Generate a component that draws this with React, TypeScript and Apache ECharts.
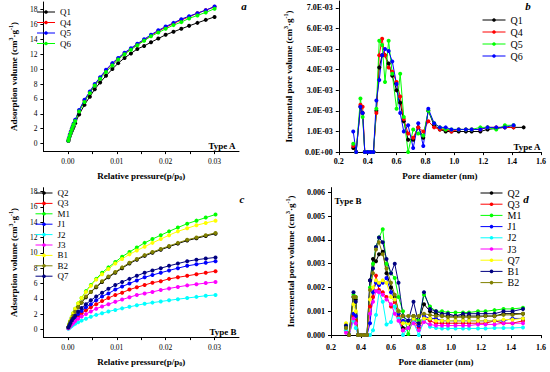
import React, { useEffect, useRef } from 'react';
import * as echarts from 'echarts';

const FONT = '"Liberation Serif", "Times New Roman", serif';

// ---------- Panel a: adsorption isotherms, Type A ----------
const aPressure = [0.0001, 0.0002, 0.0004, 0.0006, 0.0008, 0.001, 0.0012, 0.0015, 0.0023, 0.0034, 0.0045, 0.0055, 0.0066, 0.0078, 0.0091, 0.0103, 0.0116, 0.0129, 0.0142, 0.0156, 0.017, 0.0185, 0.02, 0.0216, 0.0232, 0.0248, 0.0265, 0.0282, 0.03];
const aQ1 = [0.35, 0.6, 1.0, 1.35, 1.7, 2.0, 2.3, 2.75, 3.9, 5.2, 6.3, 7.3, 8.2, 9.1, 10.0, 10.8, 11.5, 12.1, 12.7, 13.1, 13.6, 14.1, 14.6, 15.0, 15.4, 15.8, 16.2, 16.6, 17.0];
const aQ4 = [0.4, 0.7, 1.15, 1.55, 1.95, 2.3, 2.65, 3.1, 4.4, 5.8, 6.9, 7.9, 8.8, 9.8, 10.7, 11.4, 12.1, 12.7, 13.3, 13.9, 14.5, 15.1, 15.6, 16.1, 16.6, 17.0, 17.5, 17.9, 18.35];
const aQ5 = [0.4, 0.75, 1.2, 1.6, 2.0, 2.35, 2.7, 3.2, 4.5, 5.9, 7.0, 8.0, 8.9, 9.9, 10.8, 11.5, 12.2, 12.8, 13.4, 14.0, 14.6, 15.2, 15.7, 16.2, 16.7, 17.1, 17.5, 17.9, 18.4];
const aQ6 = [0.4, 0.7, 1.1, 1.5, 1.9, 2.25, 2.6, 3.05, 4.3, 5.6, 6.8, 7.8, 8.7, 9.6, 10.5, 11.3, 12.0, 12.6, 13.2, 13.8, 14.4, 14.9, 15.4, 15.9, 16.3, 16.8, 17.2, 17.6, 18.1];

// ---------- Panel c: adsorption isotherms, Type B ----------
const cPressure = [0.0001, 0.0003, 0.0005, 0.0008, 0.0011, 0.0015, 0.0021, 0.0028, 0.0037, 0.0047, 0.0058, 0.007, 0.0083, 0.0097, 0.0111, 0.0126, 0.0141, 0.0157, 0.0173, 0.019, 0.0207, 0.0225, 0.0244, 0.0263, 0.0282, 0.0302];
const cQ2 = [0.3, 0.6, 1.0, 1.4, 1.8, 2.3, 2.9, 3.5, 4.2, 4.9, 5.5, 6.2, 6.8, 7.4, 8.0, 8.6, 9.1, 9.6, 10.0, 10.4, 10.8, 11.2, 11.6, 11.9, 12.2, 12.5];
const cQ3 = [0.2, 0.35, 0.55, 0.8, 1.05, 1.35, 1.7, 2.1, 2.5, 2.9, 3.3, 3.7, 4.1, 4.5, 4.8, 5.2, 5.5, 5.8, 6.1, 6.3, 6.6, 6.8, 7.0, 7.2, 7.4, 7.6];
const cM1 = [0.3, 0.7, 1.1, 1.6, 2.1, 2.7, 3.4, 4.1, 5.0, 5.8, 6.6, 7.4, 8.1, 8.8, 9.5, 10.1, 10.7, 11.3, 11.8, 12.3, 12.8, 13.3, 13.8, 14.2, 14.6, 15.0];
const cJ1 = [0.2, 0.4, 0.65, 0.95, 1.25, 1.6, 2.0, 2.4, 2.9, 3.3, 3.8, 4.3, 4.7, 5.2, 5.6, 6.0, 6.4, 6.8, 7.1, 7.4, 7.7, 8.0, 8.3, 8.5, 8.7, 8.9];
const cJ2 = [0.1, 0.2, 0.3, 0.45, 0.6, 0.75, 0.95, 1.15, 1.4, 1.65, 1.9, 2.1, 2.35, 2.55, 2.75, 2.95, 3.15, 3.35, 3.5, 3.65, 3.8, 3.95, 4.1, 4.25, 4.4, 4.5];
const cJ3 = [0.15, 0.3, 0.45, 0.65, 0.85, 1.1, 1.4, 1.7, 2.0, 2.35, 2.7, 3.0, 3.3, 3.6, 3.9, 4.2, 4.5, 4.7, 4.9, 5.15, 5.35, 5.55, 5.75, 5.9, 6.05, 6.2];
const cB1 = [0.3, 0.7, 1.1, 1.6, 2.1, 2.7, 3.4, 4.1, 4.9, 5.7, 6.5, 7.2, 7.9, 8.6, 9.2, 9.8, 10.3, 10.8, 11.3, 11.8, 12.3, 12.8, 13.2, 13.6, 13.9, 14.2];
const cB2 = [0.3, 0.6, 1.0, 1.4, 1.8, 2.3, 2.9, 3.5, 4.3, 4.9, 5.6, 6.3, 6.9, 7.5, 8.1, 8.7, 9.2, 9.7, 10.1, 10.5, 10.9, 11.3, 11.7, 12.0, 12.3, 12.6];
const cQ7 = [0.25, 0.5, 0.8, 1.15, 1.45, 1.8, 2.3, 2.8, 3.3, 3.8, 4.3, 4.8, 5.3, 5.8, 6.2, 6.6, 7.0, 7.4, 7.7, 8.0, 8.3, 8.6, 8.9, 9.1, 9.25, 9.4];

// ---------- Panel b / d: pore size distributions ----------
const poreDiameter = [0.3, 0.32, 0.35, 0.365, 0.38, 0.4, 0.42, 0.44, 0.46, 0.48, 0.5, 0.52, 0.545, 0.57, 0.6, 0.625, 0.65, 0.68, 0.715, 0.75, 0.785, 0.82, 0.86, 0.9, 0.94, 0.98, 1.03, 1.08, 1.12, 1.18, 1.23, 1.29, 1.35, 1.41, 1.48];

const bQ1 = [0.2e-3, 0, 2.2e-3, 1.9e-3, 0, 0, 0, 0, 2.0e-3, 4.1e-3, 4.7e-3, 4.7e-3, 4.3e-3, 3.7e-3, 3.0e-3, 2.4e-3, 1.5e-3, 0.6e-3, 0.6e-3, 1.2e-3, 0.7e-3, 2.0e-3, 1.3e-3, 1.1e-3, 1.0e-3, 1.0e-3, 1.0e-3, 1.0e-3, 1.0e-3, 1.0e-3, 1.1e-3, 1.15e-3, 1.2e-3, 1.2e-3, 1.2e-3];
const bQ4 = [0.3e-3, 0, 2.3e-3, 2.2e-3, 0, 0, 0, 0, 1.9e-3, 4.7e-3, 5.5e-3, 4.7e-3, 4.1e-3, 3.9e-3, 3.4e-3, 2.7e-3, 1.6e-3, 0.9e-3, 0.7e-3, 1.2e-3, 1.0e-3, 1.5e-3, 1.2e-3, 1.1e-3, 1.1e-3, 1.0e-3, 1.1e-3, 1.1e-3, 1.1e-3, 1.1e-3, 1.2e-3, 1.2e-3, 1.2e-3, 1.2e-3];
const bQ5 = [0.4e-3, 0, 2.6e-3, 1.7e-3, 0, 0, 0, 0, 2.1e-3, 5.4e-3, 5.2e-3, 3.4e-3, 5.4e-3, 3.8e-3, 2.1e-3, 3.8e-3, 1.7e-3, 0, 1.1e-3, 0.9e-3, 0.8e-3, 2.0e-3, 1.4e-3, 1.2e-3, 1.1e-3, 1.1e-3, 1.1e-3, 1.1e-3, 1.1e-3, 1.2e-3, 1.2e-3, 1.1e-3, 1.3e-3, 1.3e-3];
const bQ6 = [1.0e-3, 0, 2.2e-3, 1.9e-3, 0, 0, 0, 0, 2.5e-3, 3.5e-3, 4.7e-3, 5.0e-3, 4.9e-3, 4.4e-3, 3.3e-3, 1.9e-3, 1.0e-3, 1.3e-3, 0.2e-3, 1.4e-3, 0.3e-3, 2.1e-3, 1.4e-3, 1.2e-3, 1.2e-3, 1.1e-3, 1.1e-3, 1.1e-3, 1.1e-3, 1.1e-3, 1.2e-3, 1.2e-3, 1.2e-3, 1.3e-3];

const dQ2 = [0.0003, 0, 0.0016, 0.0015, 0, 0, 0, 0, 0.0023, 0.0032, 0.0031, 0.0034, 0.0035, 0.0026, 0.002, 0.0016, 0.001, 0.0003, 0.0003, 0.0008, 0.0006, 0.0013, 0.001, 0.0009, 0.0008, 0.0008, 0.0008, 0.0008, 0.0008, 0.0008, 0.0008, 0.0008, 0.0009, 0.0009, 0.0009];
const dQ3 = [0.0002, 0, 0.0008, 0.0006, 0, 0, 0, 0, 0.0012, 0.0016, 0.0025, 0.0019, 0.0018, 0.0016, 0.0012, 0.0014, 0.0008, 0.0002, 0.0003, 0.0006, 0.0003, 0.0007, 0.0006, 0.0005, 0.0005, 0.0005, 0.0005, 0.0005, 0.0005, 0.0005, 0.0005, 0.0006, 0.0005, 0.0005, 0.0006];
const dM1 = [0.0004, 0, 0.0017, 0.0016, 0, 0, 0, 0, 0.002, 0.003, 0.0037, 0.0041, 0.00445, 0.003, 0.0026, 0.0024, 0.0016, 0.001, 0.00005, 0.0007, 0.0006, 0.0017, 0.0012, 0.001, 0.001, 0.00095, 0.00095, 0.00095, 0.00095, 0.001, 0.001, 0.00105, 0.0011, 0.0011, 0.00115];
const dJ1 = [0.0003, 0, 0.0009, 0.0008, 0, 0, 0, 0, 0.0005, 0.0018, 0.0022, 0.0021, 0.0022, 0.0024, 0.0018, 0.0015, 0.0009, 0.0006, 0.0006, 0.0007, 0.0004, 0.0008, 0.0007, 0.0007, 0.0006, 0.0006, 0.0006, 0.0006, 0.0006, 0.0006, 0.0006, 0.0006, 0.0006, 0.0007, 0.0007];
const dJ2 = [0.0002, 0, 0.0006, 0.0003, 0, 0, 0, 0, 0, 0.0002, 0.00085, 0.0018, 0.0014, 0.00045, 0.00055, 0.0012, 0.0007, 0, 0.0003, 0.00055, 0, 0.0006, 0.00035, 0.0003, 0.00028, 0.00028, 0.00028, 0.00028, 0.00028, 0.00028, 0.00028, 0.0003, 0.0003, 0.0003, 0.00032];
const dJ3 = [0.0001, 0, 0.0007, 0.0005, 0, 0, 0, 0, 0.0009, 0.0014, 0.00185, 0.0018, 0.0017, 0.0015, 0.0013, 0.0009, 0.0006, 0.0002, 0.0003, 0.0005, 0.0002, 0.00055, 0.00045, 0.0004, 0.0004, 0.0004, 0.0004, 0.0004, 0.0004, 0.00045, 0.00045, 0.00045, 0.0005, 0.0005, 0.0005];
const dQ7 = [0.0005, 0, 0.0013, 0.001, 0, 0, 0, 0, 0.0015, 0.002, 0.0023, 0.0022, 0.0023, 0.0022, 0.0016, 0.0015, 0.001, 0.0005, 0.0005, 0.0007, 0.0005, 0.0007, 0.0007, 0.0006, 0.0006, 0.0006, 0.0006, 0.0006, 0.0006, 0.0006, 0.0006, 0.0006, 0.00065, 0.00065, 0.0007];
const dB1 = [0.0004, 0, 0.0018, 0.0014, 0, 0, 0, 0, 0.0023, 0.0028, 0.0037, 0.0041, 0.0039, 0.0032, 0.0026, 0.003, 0.0022, 0.0008, 0.0006, 0.0014, 0.0005, 0.0018, 0.0011, 0.001, 0.0009, 0.0009, 0.0008, 0.0009, 0.0009, 0.0009, 0.0009, 0.0009, 0.001, 0.001, 0.0011];
const dB2 = [0.0003, 0, 0.0016, 0.0016, 0, 0, 0, 0, 0.0019, 0.0026, 0.0036, 0.0039, 0.0034, 0.0028, 0.0022, 0.0017, 0.001, 0.0008, 0.0008, 0.0008, 0.0008, 0.0009, 0.00085, 0.0008, 0.0008, 0.00075, 0.00075, 0.00075, 0.00075, 0.00075, 0.0008, 0.0008, 0.00085, 0.00085, 0.0009];

// ---------- tick labels ----------
const pressureTicks = [0, 0.01, 0.02, 0.03];
const pressureMinorTicks = [0, 0.005, 0.01, 0.015, 0.02, 0.025, 0.03];
const volumeTicks = [0, 2, 4, 6, 8, 10, 12, 14, 16, 18];
const incTicksB = [0, 0.001, 0.002, 0.003, 0.004, 0.005, 0.006, 0.007];
const incTicksD = [0, 0.001, 0.002, 0.003, 0.004, 0.005, 0.006];

const COLORS: Record<string, string> = {
  black: '#000000', red: '#ff0000', green: '#00ff00', blue: '#0000ff', cyan: '#00ffff',
  magenta: '#ff00ff', yellow: '#ffff00', olive: '#808000', navy: '#000080',
};

const mk = (name: string, color: string, xs: number[], ys: number[]) => ({
  name,
  type: 'line',
  data: ys.map((y, i) => [xs[i], y]),
  symbol: 'circle',
  symbolSize: 4,
  showAllSymbol: true,
  lineStyle: { color, width: 1 },
  itemStyle: { color },
  emphasis: { disabled: true },
});

const richName = {
  sup: { fontSize: 6, fontWeight: 'bold', fontFamily: FONT, verticalAlign: 'top', lineHeight: 6 },
  sub: { fontSize: 6, fontWeight: 'bold', fontFamily: FONT, verticalAlign: 'bottom', lineHeight: 6 },
};
const nameStyle = { fontFamily: FONT, fontSize: 9, fontWeight: 'bold', color: '#000', lineHeight: 11, rich: richName };

const axisCommon = {
  axisLine: { show: true, onZero: false, lineStyle: { color: '#000', width: 1 } },
  axisTick: { show: true, inside: false, length: 3, lineStyle: { color: '#000', width: 1 } },
  splitLine: { show: false },
};

const legendBase = (names: string[], left: number, top: number, itemWidth: number, fontSize: number, gap: number) => ({
  data: names,
  orient: 'vertical',
  left,
  top,
  padding: 0,
  itemWidth,
  itemHeight: 4.5,
  itemGap: gap,
  selectedMode: false,
  lineStyle: { width: 1 },
  itemStyle: { borderWidth: 0 },
  textStyle: { fontFamily: FONT, fontSize, color: '#000', lineHeight: fontSize },
});

const txt = (text: string, x: number, y: number, size: number, italic = false) => ({
  type: 'text',
  x,
  y,
  style: {
    text,
    fontFamily: FONT,
    fontSize: size,
    fontWeight: 'bold',
    fontStyle: italic ? 'italic' : 'normal',
    fill: '#000',
    align: 'center',
    verticalAlign: 'middle',
  },
});

function isothermOption(series: any[], typeLabel: string, letter: string, grid: any, legend: any, yMax: number, typePos: number[], letterPos: number[]) {
  return {
    animation: false,
    textStyle: { fontFamily: FONT },
    grid,
    legend,
    xAxis: {
      type: 'value',
      min: -0.005,
      max: 0.035,
      ...axisCommon,
      axisTick: { ...axisCommon.axisTick, customValues: pressureMinorTicks },
      axisLabel: { customValues: pressureTicks, formatter: (v: number) => v.toFixed(2), fontFamily: FONT, fontSize: 7.5, color: '#000', margin: 6 },
      name: 'Relative pressure(p/p{sub|0})',
      nameLocation: 'middle',
      nameGap: 14,
      nameTextStyle: nameStyle,
    },
    yAxis: {
      type: 'value',
      min: -1,
      max: yMax,
      ...axisCommon,
      axisTick: { ...axisCommon.axisTick, customValues: volumeTicks },
      axisLabel: { customValues: volumeTicks, fontFamily: FONT, fontSize: 7.5, color: '#000', margin: 6 },
      name: 'Adsorption volume (cm{sup|3}·g{sup|-1})',
      nameLocation: 'middle',
      nameGap: 15,
      nameTextStyle: nameStyle,
    },
    graphic: [txt(typeLabel, typePos[0], typePos[1], 9), txt(letter, letterPos[0], letterPos[1], 11, true)],
    series,
  };
}

function poreOption(series: any[], legend: any, typeLabel: string, letter: string, grid: any, yMax: number, yTicks: number[], fmt: (v: number) => string, xMargin: number, xGap: number, typePos: number[], letterPos: number[]) {
  return {
    animation: false,
    textStyle: { fontFamily: FONT },
    grid,
    legend,
    xAxis: {
      type: 'value',
      min: 0.2,
      max: 1.6,
      interval: 0.2,
      ...axisCommon,
      axisLabel: { formatter: (v: number) => v.toFixed(1), fontFamily: FONT, fontSize: 8, fontWeight: 'bold', color: '#000', margin: xMargin },
      name: 'Pore diameter (nm)',
      nameLocation: 'middle',
      nameGap: xGap,
      nameTextStyle: nameStyle,
    },
    yAxis: {
      type: 'value',
      min: 0,
      max: yMax,
      ...axisCommon,
      axisTick: { ...axisCommon.axisTick, customValues: yTicks },
      axisLabel: { customValues: yTicks, formatter: fmt, fontFamily: FONT, fontSize: 8, fontWeight: 'bold', color: '#000', margin: 6 },
      name: 'Incremental pore volume (cm{sup|3}·g{sup|-1})',
      nameLocation: 'middle',
      nameGap: 35,
      nameTextStyle: nameStyle,
    },
    graphic: [txt(typeLabel, typePos[0], typePos[1], 9), txt(letter, letterPos[0], letterPos[1], 11, true)],
    series,
  };
}

const aNames = ['Q1', 'Q4', 'Q5', 'Q6'];
const optionA = isothermOption(
  [
    mk('Q1', COLORS.black, aPressure, aQ1),
    mk('Q4', COLORS.red, aPressure, aQ4),
    mk('Q5', COLORS.blue, aPressure, aQ5),
    mk('Q6', COLORS.green, aPressure, aQ6),
  ],
  'Type A', 'a',
  { left: 28.5, right: 36, top: 2, bottom: 31.7 },
  legendBase(aNames, 36.5, 7.5, 18, 9, 1.5),
  19, [222, 146], [244, 6],
);

const cNames = ['Q2', 'Q3', 'M1', 'J1', 'J2', 'J3', 'B1', 'B2', 'Q7'];
const optionC = isothermOption(
  [
    mk('Q2', COLORS.black, cPressure, cQ2),
    mk('Q3', COLORS.red, cPressure, cQ3),
    mk('M1', COLORS.green, cPressure, cM1),
    mk('J1', COLORS.blue, cPressure, cJ1),
    mk('J2', COLORS.cyan, cPressure, cJ2),
    mk('J3', COLORS.magenta, cPressure, cJ3),
    mk('B1', COLORS.yellow, cPressure, cB1),
    mk('B2', COLORS.olive, cPressure, cB2),
    mk('Q7', COLORS.navy, cPressure, cQ7),
  ],
  'Type B', 'c',
  { left: 28.5, right: 36, top: 1.7, bottom: 31.2 },
  legendBase(cNames, 35, 2.5, 17, 9, 1.4),
  18.5, [223, 146], [242, 13],
);

const fmtB = (v: number) => (v === 0 ? '0.0E+00' : (v * 1000).toFixed(1) + 'E-03');
const fmtD = (v: number) => v.toFixed(3);

const bNames = ['Q1', 'Q4', 'Q5', 'Q6'];
const optionB = poreOption(
  [
    mk('Q1', COLORS.black, poreDiameter, bQ1),
    mk('Q4', COLORS.red, poreDiameter, bQ4),
    mk('Q5', COLORS.green, poreDiameter, bQ5),
    mk('Q6', COLORS.blue, poreDiameter, bQ6),
  ],
  legendBase(bNames, 207, 15, 23, 10, 2),
  'Type A', 'b',
  { left: 56, right: 9, top: 1, bottom: 28.7 },
  0.00733, incTicksB, fmtB, 5, 10.5, [252, 147], [253, 6],
);

const dNames = ['Q2', 'Q3', 'M1', 'J1', 'J2', 'J3', 'Q7', 'B1', 'B2'];
const optionD = poreOption(
  [
    mk('Q2', COLORS.black, poreDiameter, dQ2),
    mk('Q3', COLORS.red, poreDiameter, dQ3),
    mk('M1', COLORS.green, poreDiameter, dM1),
    mk('J1', COLORS.blue, poreDiameter, dJ1),
    mk('J2', COLORS.cyan, poreDiameter, dJ2),
    mk('J3', COLORS.magenta, poreDiameter, dJ3),
    mk('Q7', COLORS.yellow, poreDiameter, dQ7),
    mk('B1', COLORS.navy, poreDiameter, dB1),
    mk('B2', COLORS.olive, poreDiameter, dB2),
  ],
  legendBase(dNames, 205, 2, 22, 10, 1.2),
  'Type B', 'd',
  { left: 56, right: 9, top: 1.6, bottom: 25.7 },
  0.0062, incTicksD, fmtD, 8, 17, [73, 15], [251, 13],
);

function Panel({ option, left, top }: { option: any; left: number; top: number }) {
  const ref = useRef<HTMLDivElement>(null);
  useEffect(() => {
    const chart = echarts.init(ref.current as HTMLDivElement, null, { renderer: 'svg' });
    chart.setOption(option);
    return () => chart.dispose();
  }, [option]);
  return <div ref={ref} style={{ position: 'absolute', left, top, width: 275, height: 186 }} />;
}

export default function App() {
  return (
    <div style={{ position: 'absolute', left: 0, top: 0, width: 550, height: 372, background: '#fff' }}>
      <Panel option={optionA} left={0} top={0} />
      <Panel option={optionB} left={275} top={0} />
      <Panel option={optionC} left={0} top={186} />
      <Panel option={optionD} left={275} top={186} />
    </div>
  );
}
